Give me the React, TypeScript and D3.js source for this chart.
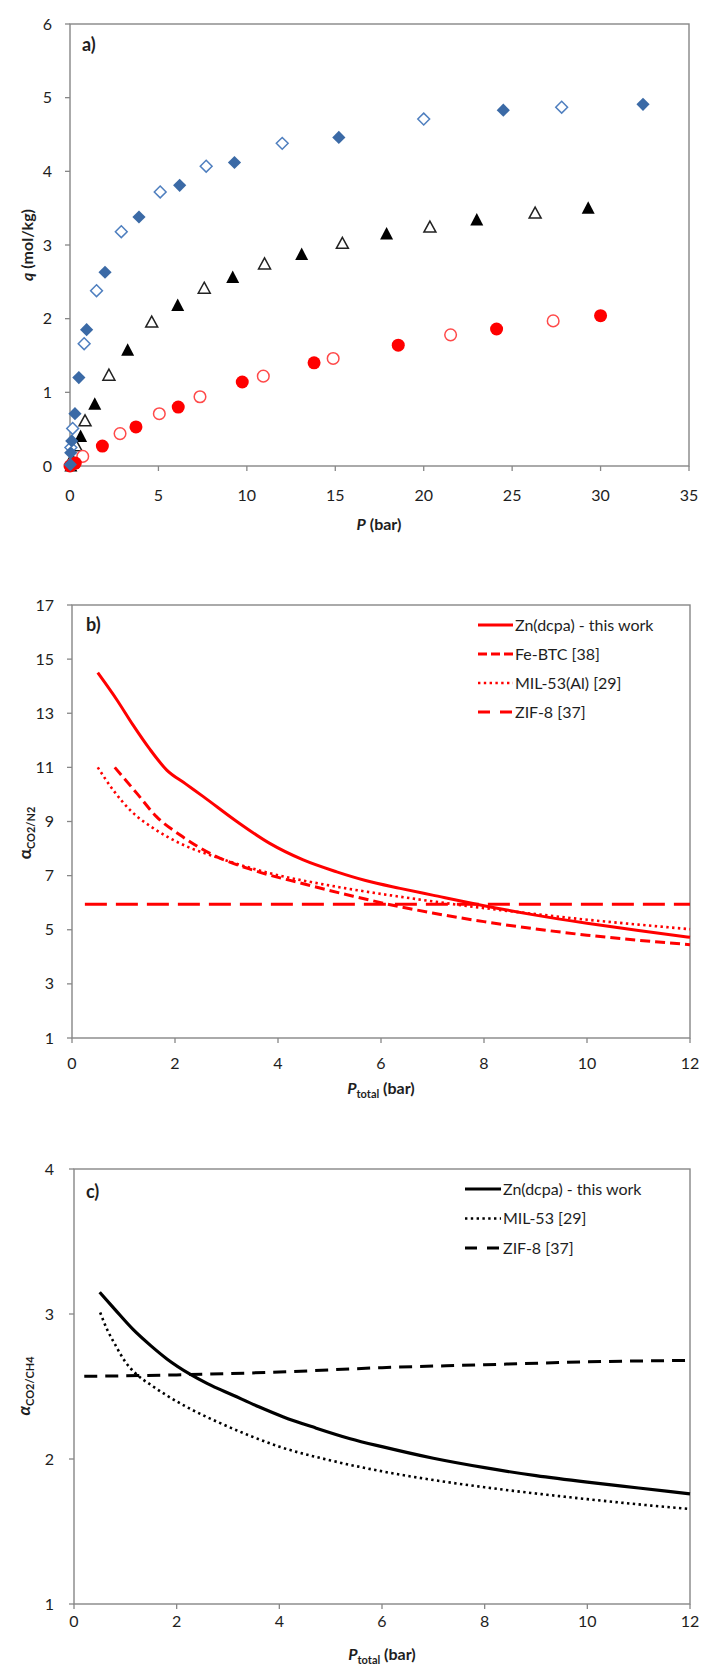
import React from 'react';
import * as d3 from 'd3';

const FONT = "Lato, 'Liberation Sans', Arial, sans-serif";
const AXIS = '#878787';
const TXT = '#1e1e1e';

// ---------- Panel a : isotherms ----------
const aTicksX = [0, 5, 10, 15, 20, 25, 30, 35];
const aTicksY = [0, 1, 2, 3, 4, 5, 6];
const aBlueFilledP = [0.02, 0.04, 0.1, 0.28, 0.5, 0.94, 1.98, 3.9, 6.2, 9.3, 15.2, 24.5, 32.4];
const aBlueFilledQ = [0.02, 0.18, 0.34, 0.71, 1.2, 1.85, 2.63, 3.38, 3.81, 4.12, 4.46, 4.83, 4.91];
const aBlueOpenP = [0.05, 0.15, 0.8, 1.5, 2.9, 5.1, 7.7, 12.0, 20.0, 27.8];
const aBlueOpenQ = [0.25, 0.51, 1.66, 2.38, 3.18, 3.72, 4.07, 4.38, 4.71, 4.87];
const aBlackFilledP = [0.05, 0.15, 0.6, 1.4, 3.26, 6.09, 9.2, 13.1, 17.9, 23.0, 29.3];
const aBlackFilledQ = [0.01, 0.05, 0.41, 0.85, 1.58, 2.19, 2.57, 2.88, 3.16, 3.35, 3.51];
const aBlackOpenP = [0.1, 0.34, 0.85, 2.2, 4.62, 7.59, 11.0, 15.4, 20.35, 26.3];
const aBlackOpenQ = [0.1, 0.28, 0.62, 1.24, 1.96, 2.42, 2.75, 3.03, 3.25, 3.44];
const aRedFilledP = [0.0, 0.3, 1.83, 3.73, 6.12, 9.74, 13.8, 18.56, 24.12, 30.0];
const aRedFilledQ = [0.0, 0.04, 0.27, 0.53, 0.8, 1.14, 1.4, 1.64, 1.86, 2.04];
const aRedOpenP = [0.1, 0.72, 2.83, 5.05, 7.35, 10.93, 14.88, 21.52, 27.32];
const aRedOpenQ = [0.02, 0.13, 0.44, 0.71, 0.94, 1.22, 1.46, 1.78, 1.97];

// ---------- Panel b : CO2/N2 selectivity ----------
const bTicksX = [0, 2, 4, 6, 8, 10, 12];
const bTicksY = [1, 3, 5, 7, 9, 11, 13, 15, 17];
const bZnP = [0.5, 0.87, 1.19, 1.5, 1.84, 2.2, 2.55, 3.2, 3.84, 4.49, 5.14, 5.7, 6.37, 7, 8, 9, 10, 11, 12];
const bZnA = [14.5, 13.5, 12.55, 11.7, 10.9, 10.4, 9.92, 9.0, 8.19, 7.58, 7.14, 6.82, 6.53, 6.28, 5.89, 5.54, 5.24, 4.97, 4.72];
const bFeP = [0.83, 1.26, 1.64, 2.1, 2.68, 3.52, 4.49, 5.46, 6.37, 7, 8, 9, 10, 11, 12];
const bFeA = [11.0, 10.04, 9.18, 8.5, 7.82, 7.2, 6.7, 6.24, 5.85, 5.62, 5.3, 5.03, 4.8, 4.61, 4.45];
const bMilP = [0.5, 0.8, 1.13, 1.58, 2.1, 2.87, 3.84, 5.14, 6.37, 7, 8, 9, 10, 11, 12];
const bMilA = [11.0, 10.16, 9.42, 8.75, 8.19, 7.64, 7.09, 6.59, 6.22, 6.05, 5.8, 5.58, 5.37, 5.19, 5.02];
const bZifP = [0.25, 2, 4, 6, 8, 10, 12];
const bZifA = [5.94, 5.94, 5.94, 5.94, 5.94, 5.94, 5.94];
const bLegend = ['Zn(dcpa) - this work', 'Fe-BTC [38]', 'MIL-53(Al) [29]', 'ZIF-8 [37]'];

// ---------- Panel c : CO2/CH4 selectivity ----------
const cTicksX = [0, 2, 4, 6, 8, 10, 12];
const cTicksY = [1, 2, 3, 4];
const cZnP = [0.5, 0.8, 1.16, 1.5, 1.81, 2.26, 2.6, 3.1, 3.6, 4.08, 4.7, 5.38, 6, 7, 8, 9, 10, 11, 12];
const cZnA = [3.15, 3.03, 2.89, 2.78, 2.69, 2.585, 2.52, 2.44, 2.36, 2.29, 2.215, 2.14, 2.085, 2.005, 1.94, 1.885, 1.84, 1.8, 1.76];
const cMilP = [0.51, 0.65, 0.8, 1.0, 1.2, 1.5, 1.8, 2.19, 2.8, 3.43, 4, 5, 6, 7, 8, 9, 10, 11, 12];
const cMilA = [3.01, 2.89, 2.79, 2.67, 2.59, 2.51, 2.44, 2.36, 2.255, 2.16, 2.085, 1.99, 1.915, 1.855, 1.805, 1.762, 1.723, 1.687, 1.655];
const cZifP = [0.2, 2, 4, 6, 8, 10, 12];
const cZifA = [2.57, 2.58, 2.6, 2.63, 2.65, 2.67, 2.68];
const cLegend = ['Zn(dcpa) - this work', 'MIL-53 [29]', 'ZIF-8 [37]'];

type Pt = [number, number];
const zip = (xs: number[], ys: number[]): Pt[] => xs.map((x, i) => [x, ys[i]]);

const diamond = (r: number) => `M0,${-r}L${r},0L0,${r}L${-r},0Z`;
const triangle = (w: number, h: number) => `M0,${-h / 2}L${w / 2},${h / 2}L${-w / 2},${h / 2}Z`;

function Frame({ x, y, ticksX, ticksY }: any) {
  const [x0, x1] = x.range();
  const [y0, y1] = y.range(); // y0 bottom, y1 top
  return (
    <g>
      <rect x={x0} y={y1} width={x1 - x0} height={y0 - y1} fill="none" stroke={AXIS} strokeWidth={1.4} />
      {ticksX.map((t: number) => (
        <line key={'x' + t} x1={x(t)} x2={x(t)} y1={y0} y2={y0 + 5} stroke={AXIS} strokeWidth={1.3} />
      ))}
      {ticksY.map((t: number) => (
        <line key={'y' + t} x1={x0 - 5} x2={x0} y1={y(t)} y2={y(t)} stroke={AXIS} strokeWidth={1.3} />
      ))}
    </g>
  );
}

function TickLabels({ x, y, ticksX, ticksY, xLabelY, yLabelX }: any) {
  return (
    <g fontFamily={FONT} fontSize={16} fill={TXT}>
      {ticksX.map((t: number) => (
        <text key={'tx' + t} x={x(t)} y={xLabelY} textAnchor="middle">{t}</text>
      ))}
      {ticksY.map((t: number) => (
        <text key={'ty' + t} x={yLabelX} y={y(t) + 5.5} textAnchor="end">{t}</text>
      ))}
    </g>
  );
}

export default function App() {
  const xA = d3.scaleLinear().domain([0, 35]).range([70, 689]);
  const yA = d3.scaleLinear().domain([0, 6]).range([466, 24]);
  const xB = d3.scaleLinear().domain([0, 12]).range([72, 690]);
  const yB = d3.scaleLinear().domain([1, 17]).range([1038, 605]);
  const xC = d3.scaleLinear().domain([0, 12]).range([74, 690]);
  const yC = d3.scaleLinear().domain([1, 4]).range([1604, 1169]);

  const lineB = d3.line<Pt>().x(d => xB(d[0])).y(d => yB(d[1])).curve(d3.curveMonotoneX);
  const lineC = d3.line<Pt>().x(d => xC(d[0])).y(d => yC(d[1])).curve(d3.curveMonotoneX);

  const RED = '#ff0000';
  const BLUE = '#3b6aa6';
  const BLUE_OPEN = '#4f7fbf';
  const RED_OPEN = '#ff4a4a';

  const dsFe = '10 5';
  const dsDot = '2.4 3.4';
  const dsZifB = '22 9';
  const dsZifC = '13 8';

  const bSeries = [
    { data: zip(bZnP, bZnA), dash: undefined, w: 3 },
    { data: zip(bFeP, bFeA), dash: dsFe, w: 3 },
    { data: zip(bMilP, bMilA), dash: dsDot, w: 2.6 },
    { data: zip(bZifP, bZifA), dash: dsZifB, w: 3 },
  ];
  const bLegDash = [undefined, '9 4', dsDot, '12 10'];
  const cSeries = [
    { data: zip(cZnP, cZnA), dash: undefined, w: 3.2 },
    { data: zip(cMilP, cMilA), dash: dsDot, w: 2.6 },
    { data: zip(cZifP, cZifA), dash: dsZifC, w: 3 },
  ];
  const cLegDash = [undefined, dsDot, '12 10'];

  return (
    <svg width={701} height={1670} style={{ position: 'absolute', left: 0, top: 0, background: '#fff' }}
      xmlns="http://www.w3.org/2000/svg">
      <rect x={0} y={0} width={701} height={1670} fill="#fff" />

      {/* ================= Panel a ================= */}
      <Frame x={xA} y={yA} ticksX={aTicksX} ticksY={aTicksY} />
      <TickLabels x={xA} y={yA} ticksX={aTicksX} ticksY={aTicksY} xLabelY={501} yLabelX={52} />
      <g>
        {zip(aBlackOpenP, aBlackOpenQ).map((d, i) => (
          <path key={'bo' + i} d={triangle(12, 11)} transform={`translate(${xA(d[0])},${yA(d[1])})`}
            fill="#fff" stroke="#222" strokeWidth={1.5} />
        ))}
        {zip(aBlackFilledP, aBlackFilledQ).map((d, i) => (
          <path key={'bf' + i} d={triangle(13, 12.5)} transform={`translate(${xA(d[0])},${yA(d[1])})`}
            fill="#000" />
        ))}
        {zip(aRedOpenP, aRedOpenQ).map((d, i) => (
          <circle key={'ro' + i} cx={xA(d[0])} cy={yA(d[1])} r={5.8} fill="#fff" stroke={RED_OPEN} strokeWidth={1.5} />
        ))}
        {zip(aRedFilledP, aRedFilledQ).map((d, i) => (
          <circle key={'rf' + i} cx={xA(d[0])} cy={yA(d[1])} r={6.5} fill={RED} />
        ))}
        {zip(aBlueOpenP, aBlueOpenQ).map((d, i) => (
          <path key={'uo' + i} d={diamond(5.9)} transform={`translate(${xA(d[0])},${yA(d[1])})`}
            fill="#fff" stroke={BLUE_OPEN} strokeWidth={1.5} />
        ))}
        {zip(aBlueFilledP, aBlueFilledQ).map((d, i) => (
          <path key={'uf' + i} d={diamond(6.6)} transform={`translate(${xA(d[0])},${yA(d[1])})`}
            fill={BLUE} />
        ))}
      </g>
      <text x={82} y={51} fontFamily={FONT} fontSize={18} fontWeight="bold" fill={TXT}>a)</text>
      <text x={379} y={530} textAnchor="middle" fontFamily={FONT} fontSize={16} fontWeight="bold" fill={TXT}>
        <tspan fontStyle="italic">P</tspan> (bar)
      </text>
      <text transform="translate(33,245) rotate(-90)" textAnchor="middle" fontFamily={FONT} fontSize={16}
        fontWeight="bold" fill={TXT}>
        <tspan fontStyle="italic">q</tspan> (mol/kg)
      </text>

      {/* ================= Panel b ================= */}
      <Frame x={xB} y={yB} ticksX={bTicksX} ticksY={bTicksY} />
      <TickLabels x={xB} y={yB} ticksX={bTicksX} ticksY={bTicksY} xLabelY={1069} yLabelX={54} />
      <g fill="none" stroke={RED}>
        {bSeries.map((s, i) => (
          <path key={'bl' + i} d={lineB(s.data) || ''} strokeWidth={s.w} strokeDasharray={s.dash} />
        ))}
      </g>
      <text x={86} y={631} fontFamily={FONT} fontSize={18} fontWeight="bold" fill={TXT}>b)</text>
      <g fontFamily={FONT} fontSize={16} fill={TXT}>
        {bLegend.map((name, i) => {
          const yy = 625 + i * 29;
          return (
            <g key={'lb' + i}>
              <line x1={478} x2={513} y1={yy} y2={yy} stroke={RED} strokeWidth={i === 2 ? 2.4 : 3}
                strokeDasharray={bLegDash[i]} />
              <text x={515} y={yy + 5.5}>{name}</text>
            </g>
          );
        })}
      </g>
      <text x={381} y={1094} textAnchor="middle" fontFamily={FONT} fontSize={16} fontWeight="bold" fill={TXT}>
        <tspan fontStyle="italic">P</tspan>
        <tspan fontSize={11} dy={4}>total</tspan>
        <tspan dy={-4}> (bar)</tspan>
      </text>
      <text transform="translate(31,833) rotate(-90)" textAnchor="middle" fontFamily={FONT} fontSize={17}
        fontWeight="bold" fill={TXT}>
        <tspan>α</tspan>
        <tspan fontSize={11} dy={4}>CO2/N2</tspan>
      </text>

      {/* ================= Panel c ================= */}
      <Frame x={xC} y={yC} ticksX={cTicksX} ticksY={cTicksY} />
      <TickLabels x={xC} y={yC} ticksX={cTicksX} ticksY={cTicksY} xLabelY={1627} yLabelX={54} />
      <g fill="none" stroke="#000">
        {cSeries.map((s, i) => (
          <path key={'cl' + i} d={lineC(s.data) || ''} strokeWidth={s.w} strokeDasharray={s.dash} />
        ))}
      </g>
      <text x={86} y={1198} fontFamily={FONT} fontSize={18} fontWeight="bold" fill={TXT}>c)</text>
      <g fontFamily={FONT} fontSize={16} fill={TXT}>
        {cLegend.map((name, i) => {
          const yy = 1189 + i * 29.5;
          return (
            <g key={'lc' + i}>
              <line x1={465} x2={501} y1={yy} y2={yy} stroke="#000" strokeWidth={i === 1 ? 2.4 : 3}
                strokeDasharray={cLegDash[i]} />
              <text x={503} y={yy + 5.5}>{name}</text>
            </g>
          );
        })}
      </g>
      <text x={382} y={1660} textAnchor="middle" fontFamily={FONT} fontSize={16} fontWeight="bold" fill={TXT}>
        <tspan fontStyle="italic">P</tspan>
        <tspan fontSize={11} dy={4}>total</tspan>
        <tspan dy={-4}> (bar)</tspan>
      </text>
      <text transform="translate(30,1386) rotate(-90)" textAnchor="middle" fontFamily={FONT} fontSize={17}
        fontWeight="bold" fill={TXT}>
        <tspan fontStyle="italic">α</tspan>
        <tspan fontSize={11} dy={4}>CO2/CH4</tspan>
      </text>
    </svg>
  );
}
